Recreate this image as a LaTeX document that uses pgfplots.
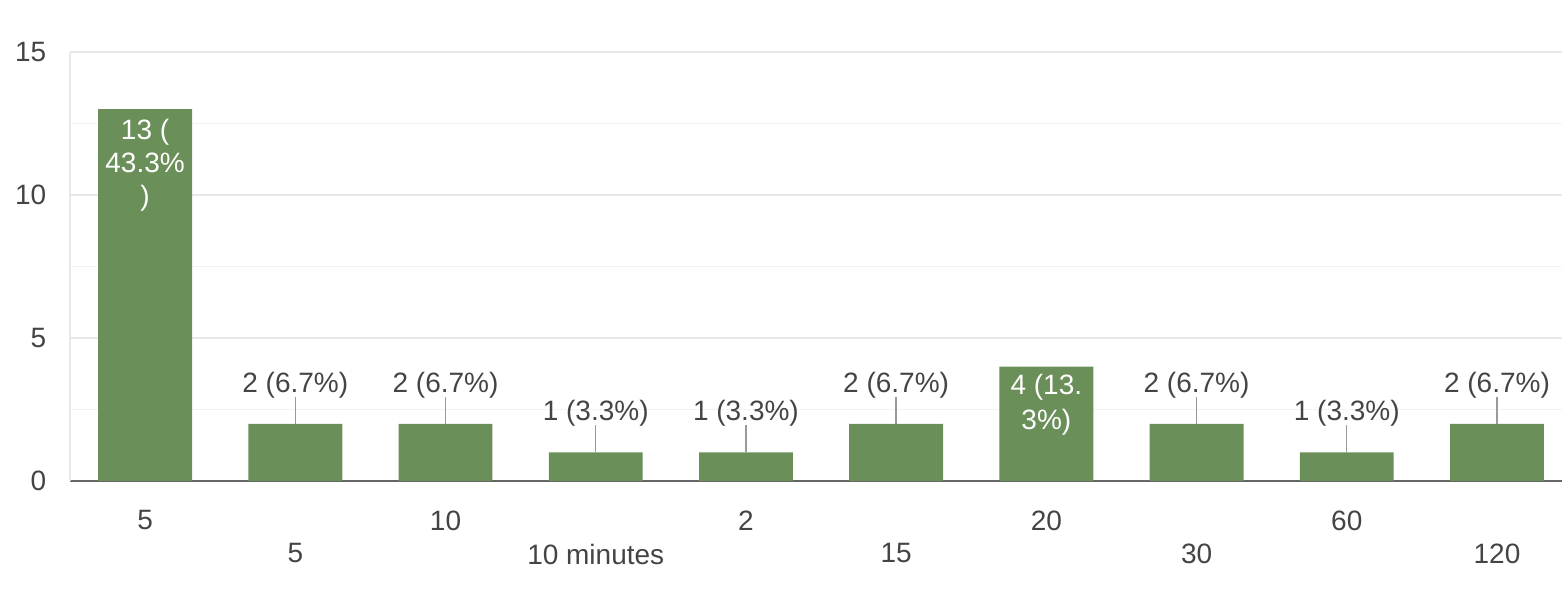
\documentclass[border=0pt]{standalone}
\usepackage{pgfplots}
\pgfplotsset{compat=1.18}
\usepackage{fontspec}
\setmainfont{Liberation Sans}
\definecolor{barg}{HTML}{6A8F58}
\definecolor{txt}{HTML}{444444}
\definecolor{lead}{HTML}{9A9A9A}
\definecolor{gmaj}{HTML}{E8E8E8}
\definecolor{gmin}{HTML}{F3F3F3}
\begin{document}
\begin{tikzpicture}
\fontsize{14}{17}\selectfont
\path[use as bounding box] (-35pt,-55.5pt) rectangle (746pt,240.5pt);
\begin{axis}[
    at={(0,0)}, anchor=south west,
    scale only axis,
    width=746pt, height=214.5pt,
    xmin=-0.5, xmax=9.433,
    ymin=0, ymax=15,
    axis x line=bottom, axis y line=left,
    x axis line style={-, draw=black!60, line width=1.1pt},
    y axis line style={-, draw=gmaj, line width=0.8pt},
    ytick={0,5,10,15},
    minor ytick={2.5,7.5,12.5},
    ymajorgrids, yminorgrids,
    major grid style={draw=gmaj, line width=0.8pt},
    minor grid style={draw=gmin, line width=0.8pt},
    major tick length=0pt, minor tick length=0pt,
    xtick={0,2,4,6,8},
    xticklabels={5,10,2,20,60},
    extra x ticks={1,3,5,7,9},
    extra x tick labels={5,10 minutes,15,30,120},
    extra x tick style={grid=none, major tick length=0pt,
        tick label style={yshift=-16.5pt}},
    x tick label style={text=txt, font=\fontsize{14}{17}\selectfont, yshift=-10pt},
    y tick label style={text=txt, font=\fontsize{14}{17}\selectfont, xshift=-7pt},
    /pgf/number format/assume math mode=true,
]
\addplot[ybar, bar width=0.625, fill=barg, draw=none] coordinates {
    (0,13) (1,2) (2,2) (3,1) (4,1) (5,2) (6,4) (7,2) (8,1) (9,2)
};
% labels above the short bars, with leader lines
\addplot[draw=none, point meta=explicit symbolic,
    nodes near coords,
    nodes near coords style={anchor=center, yshift=19.5pt, text=txt,
        font=\fontsize{14}{17}\selectfont},
    error bars/.cd, y dir=plus, y explicit, error mark=none,
    error bar style={draw=lead, line width=0.7pt}]
table[col sep=comma, x=x, y=y, y error=e, meta=lab] {
x,y,e,lab
1,2,0.95,2 (6.7\%)
2,2,0.95,2 (6.7\%)
3,1,0.95,1 (3.3\%)
4,1,0.95,1 (3.3\%)
5,2,0.95,2 (6.7\%)
7,2,0.95,2 (6.7\%)
8,1,0.95,1 (3.3\%)
9,2,0.95,2 (6.7\%)
};
% labels inside the tall bars
\addplot[draw=none, nodes near coords={13 (\\43.3\%\\)},
    nodes near coords style={anchor=north, align=center, inner sep=0pt,
        yshift=-5pt, text=white, font=\fontsize{14}{16.5}\selectfont}]
coordinates {(0,13)};
\addplot[draw=none, nodes near coords={4 (13.\\3\%)},
    nodes near coords style={anchor=north, align=center, inner sep=0pt,
        yshift=-3.5pt, text=white, font=\fontsize{14}{17.5}\selectfont}]
coordinates {(6,4)};
\end{axis}
\end{tikzpicture}
\end{document}
